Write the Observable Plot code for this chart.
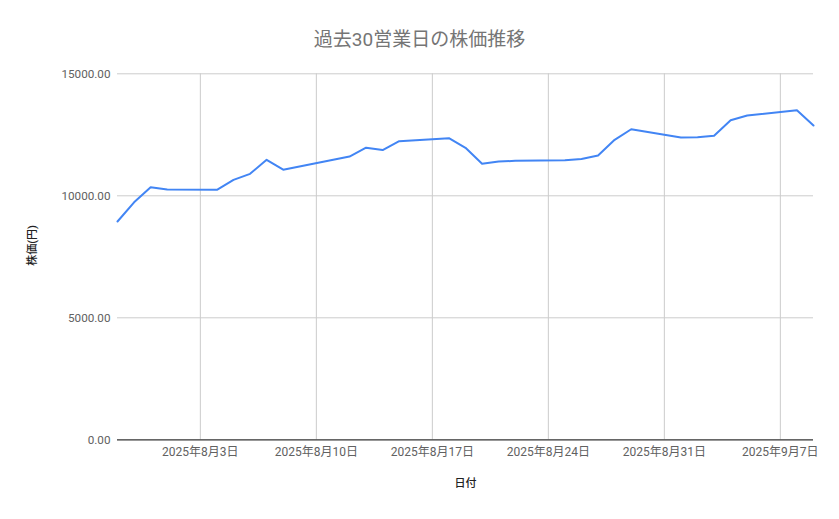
<!DOCTYPE html>
<html>
<head>
<meta charset="utf-8">
<script src="https://cdn.jsdelivr.net/npm/d3@7"></script>
<script src="https://cdn.jsdelivr.net/npm/@observablehq/plot@0.6"></script>
<style>
  html, body { margin: 0; padding: 0; background: #fff; }
  #title { width: 839px; height: 30px; padding-top: 30px; line-height: 19px; text-align: center;
           font-family: Roboto, "Noto Sans CJK JP", sans-serif; font-size: 19px; color: #757575; }
</style>
</head>
<body>
<div id="title">過去30営業日の株価推移</div>
<div id="chart"></div>
<script>
const dates = [
  "2025-07-29","2025-07-30","2025-07-31","2025-08-01",
  "2025-08-04","2025-08-05","2025-08-06","2025-08-07","2025-08-08",
  "2025-08-12","2025-08-13","2025-08-14","2025-08-15",
  "2025-08-18","2025-08-19","2025-08-20","2025-08-21","2025-08-22",
  "2025-08-25","2025-08-26","2025-08-27","2025-08-28","2025-08-29",
  "2025-09-01","2025-09-02","2025-09-03","2025-09-04","2025-09-05",
  "2025-09-08","2025-09-09"
];
const prices = [
  8946, 9733, 10352, 10257,
  10245, 10655, 10901, 11474, 11069,
  11610, 11970, 11876, 12237,
  12360, 11966, 11310, 11405, 11433,
  11454, 11507, 11651, 12294, 12728,
  12388, 12400, 12458, 13097, 13290,
  13507, 12880
];
const xTickDates = ["2025-08-03","2025-08-10","2025-08-17","2025-08-24","2025-08-31","2025-09-07"];
const yTicks = [0, 5000, 10000, 15000];
const xDomain = ["2025-07-29", "2025-09-09"];

const parse = d3.utcParse("%Y-%m-%d");
const data = dates.map((d, i) => ({date: parse(d), price: prices[i]}));
const xTicks = xTickDates.map(parse);
const fmtDate = d => `${d.getUTCFullYear()}年${d.getUTCMonth() + 1}月${d.getUTCDate()}日`;

const chart = Plot.plot({
  width: 839,
  height: 459,
  marginTop: 13.3,
  marginBottom: 79.7,
  marginLeft: 117,
  marginRight: 26,
  style: {fontFamily: 'Roboto, "Noto Sans CJK JP", sans-serif', background: "#fff"},
  x: {type: "utc", domain: xDomain.map(parse)},
  y: {domain: [0, 15000]},
  marks: [
    Plot.gridX(xTicks, {stroke: "#cccccc", strokeOpacity: 1}),
    Plot.gridY(yTicks.filter(v => v > 0), {stroke: "#cccccc", strokeOpacity: 1}),
    Plot.ruleY([0], {stroke: "#333333", strokeWidth: 1.2}),
    Plot.axisX(xTicks, {tickSize: 0, tickPadding: 7.5, tickFormat: fmtDate, fontSize: 12, fill: "#616161", label: null}),
    Plot.axisY(yTicks, {tickSize: 0, tickPadding: 7, tickFormat: d => d.toFixed(2), fontSize: 11.7, fill: "#616161", label: null}),
    Plot.lineY(data, {x: "date", y: "price", stroke: "#4285f4", strokeWidth: 2}),
    Plot.text(["日付"], {frameAnchor: "bottom", dy: 46.7, fontSize: 11, fill: "#222", fontWeight: 500}),
    Plot.text(["株価(円)"], {frameAnchor: "left", dx: -85, dy: 9, rotate: -90, fontSize: 11, fill: "#222", fontWeight: 500})
  ]
});
document.getElementById("chart").appendChild(chart);
</script>
</body>
</html>
